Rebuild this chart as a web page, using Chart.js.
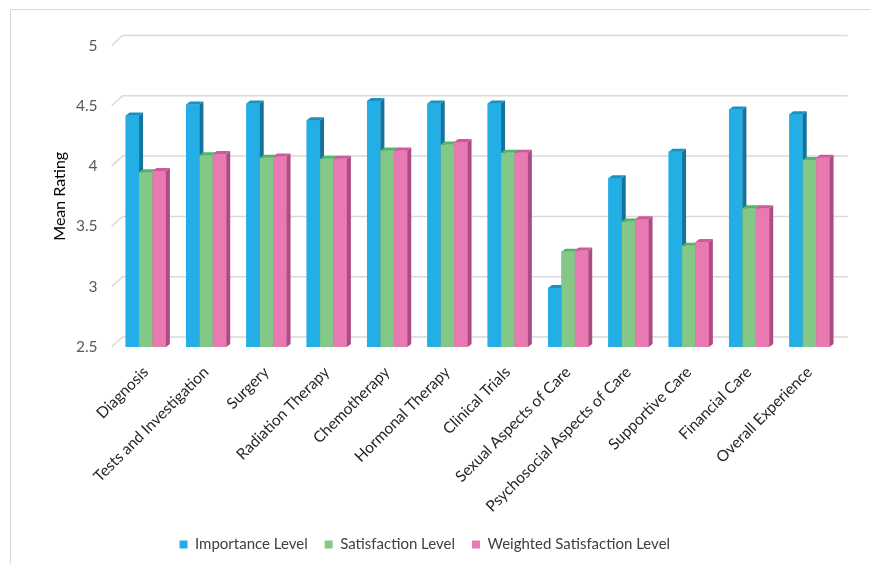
<!DOCTYPE html>
<html><head><meta charset="utf-8">
<script src="https://cdn.jsdelivr.net/npm/chart.js@4.4.1/dist/chart.umd.min.js"></script>
<style>html,body{margin:0;padding:0;background:#fff}</style>
</head><body>
<canvas id="c" width="870" height="564"></canvas>
<script>
const categories = ["Diagnosis","Tests and Investigation","Surgery","Radiation Therapy","Chemotherapy","Hormonal Therapy","Clinical Trials","Sexual Aspects of Care","Psychosocial Aspects of Care","Supportive Care","Financial Care","Overall Experience"];
const importance   = [4.42, 4.51, 4.52, 4.38, 4.54, 4.52, 4.52, 2.99, 3.90, 4.12, 4.47, 4.43];
const satisfaction = [3.95, 4.09, 4.07, 4.06, 4.13, 4.18, 4.11, 3.29, 3.54, 3.34, 3.65, 4.05];
const weighted     = [3.96, 4.10, 4.08, 4.06, 4.13, 4.20, 4.11, 3.30, 3.56, 3.37, 3.65, 4.07];
const yTicks = [2.5, 3, 3.5, 4, 4.5, 5];
const yTickLabels = ["2.5", "3", "3.5", "4", "4.5", "5"];
const seriesNames = ["Importance Level","Satisfaction Level","Weighted Satisfaction Level"];

const faces = [
  {front:'#23AEE5', side:'#13739D', top:'#1C8FC3'},
  {front:'#84C888', side:'#4E9A57', top:'#4DB86A'},
  {front:'#E879B1', side:'#AE4A86', top:'#CE5A9C'}
];
const DX = 4, DY = 3;       // bar depth
const WDX = 11, WDY = 10;   // wall depth

const wallPlugin = {
  id: 'wall',
  beforeDatasetsDraw(chart) {
    const ctx = chart.ctx, y = chart.scales.y, a = chart.chartArea;
    ctx.save();
    ctx.strokeStyle = '#d9d9d9';
    ctx.lineWidth = 1.5;
    yTicks.forEach(v => {
      const py = y.getPixelForValue(v);
      ctx.beginPath();
      ctx.moveTo(a.left - 4, py);
      ctx.lineTo(a.left - 4 + WDX, py - WDY);
      ctx.lineTo(a.right + 8, py - WDY);
      ctx.stroke();
    });
    ctx.restore();
  }
};

const bars3d = {
  id: 'bars3d',
  afterDatasetsDraw(chart) {
    const ctx = chart.ctx, y = chart.scales.y;
    const metas = [0,1,2].map(i => chart.getDatasetMeta(i));
    const b = y.getPixelForValue(yTicks[0]);
    ctx.save();
    for (let i = 0; i < categories.length; i++) {
      metas.forEach((m, d) => {
        const el = m.data[i];
        if (!el) return;
        const l = el.x - el.width / 2, r = el.x + el.width / 2, t = el.y;
        const f = faces[d];
        ctx.fillStyle = f.front;
        ctx.fillRect(l, t, r - l, b - t);
        ctx.fillStyle = f.side;
        ctx.beginPath();
        ctx.moveTo(r, t); ctx.lineTo(r + DX, t - DY); ctx.lineTo(r + DX, b - DY); ctx.lineTo(r, b);
        ctx.closePath(); ctx.fill();
        ctx.fillStyle = f.top;
        ctx.beginPath();
        ctx.moveTo(l, t); ctx.lineTo(l + DX, t - DY); ctx.lineTo(r + DX, t - DY); ctx.lineTo(r, t);
        ctx.closePath(); ctx.fill();
      });
    }
    ctx.restore();
  }
};

const framePlugin = {
  id: 'frame',
  afterDraw(chart) {
    const ctx = chart.ctx;
    ctx.save();
    ctx.strokeStyle = '#d9d9d9';
    ctx.lineWidth = 1;
    ctx.beginPath();
    ctx.moveTo(10.5, 564); ctx.lineTo(10.5, 9.5); ctx.lineTo(870, 9.5);
    ctx.stroke();
    ctx.restore();
  }
};

const FONT = 'Lato, "Open Sans", sans-serif';
new Chart(document.getElementById('c'), {
  type: 'bar',
  data: {
    labels: categories,
    datasets: [
      {label: seriesNames[0], data: importance,   backgroundColor: faces[0].front},
      {label: seriesNames[1], data: satisfaction, backgroundColor: faces[1].front},
      {label: seriesNames[2], data: weighted,     backgroundColor: faces[2].front}
    ]
  },
  options: {
    responsive: false,
    animation: false,
    events: [],
    layout: {padding: {top: 45.5, right: 30.4, left: 10, bottom: 2}},
    datasets: {bar: {categoryPercentage: 0.667, barPercentage: 1.0, base: 2.5}},
    scales: {
      x: {
        grid: {display: false}, border: {display: false},
        ticks: {color: '#262626', font: {family: FONT, size: 15.5}, maxRotation: 45, minRotation: 45, padding: 8, autoSkip: false},
        afterFit: s => { s.height = 173; }
      },
      y: {
        min: 2.5, max: 5,
        grid: {display: false, drawTicks: false}, border: {display: false},
        afterBuildTicks: s => { s.ticks = yTicks.map(v => ({value: v})); },
        ticks: {color: '#595959', font: {family: FONT, size: 15.5}, padding: 18,
                callback: (v) => yTickLabels[yTicks.indexOf(v)] ?? String(v)},
        title: {display: true, text: 'Mean Rating', color: '#000', font: {family: FONT, size: 16}, padding: {top: 40, bottom: 0}},
        afterFit: s => { s.width = 105.6; }
      }
    },
    plugins: {
      legend: {
        position: 'bottom',
        labels: {color: '#404040', font: {family: FONT, size: 15}, boxWidth: 8, boxHeight: 8, padding: 17}
      },
      tooltip: {enabled: false}
    }
  },
  plugins: [wallPlugin, bars3d, framePlugin]
});
</script>
</body></html>
